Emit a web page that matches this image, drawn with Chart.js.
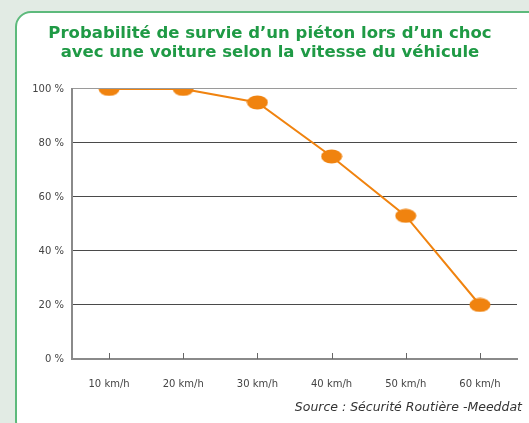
<!DOCTYPE html>
<html>
<head>
<meta charset="utf-8">
<script src="https://cdn.jsdelivr.net/npm/chart.js@4"></script>
<style>
    html, body { margin: 0; padding: 0; }
    body { width: 529px; height: 423px; background: #e2ebe4; position: relative; overflow: hidden; }
    #panel {
        position: absolute; left: 15px; top: 11px; right: -30px; bottom: -12px;
        background: #ffffff; border: 2px solid #5dba7c; border-radius: 16px 0 0 14px;
    }
    #wrap { position: absolute; left: 0; top: 0; width: 529px; height: 423px; }
</style>
</head>
<body>
<div id="panel"></div>
<div id="wrap"><canvas id="graphique"></canvas></div>
<script>
const vitesses = ['10 km/h', '20 km/h', '30 km/h', '40 km/h', '50 km/h', '60 km/h'];
const survie = [100, 100, 95, 75, 53, 20];
const graduations = [0, 20, 40, 60, 80, 100];

const orange = '#f0830f';

// point en forme d'ellipse comme sur l'image
function pointEllipse() {
    const c = document.createElement('canvas');
    c.width = 22;
    c.height = 15;
    const g = c.getContext('2d');
    g.fillStyle = orange;
    g.beginPath();
    g.ellipse(11, 7.5, 10.5, 7, 0, 0, Math.PI * 2);
    g.fill();
    return c;
}

// petites graduations vers le haut sur l'axe des x
const petitsTraits = {
    id: 'petitsTraits',
    beforeDatasetsDraw(chart) {
        const x = chart.scales.x;
        const ctx = chart.ctx;
        ctx.save();
        ctx.strokeStyle = '#666';
        ctx.lineWidth = 1;
        x.ticks.forEach(function (t, i) {
            const px = Math.round(x.getPixelForTick(i)) + 0.5;
            ctx.beginPath();
            ctx.moveTo(px, x.top - 6);
            ctx.lineTo(px, x.top);
            ctx.stroke();
        });
        ctx.restore();
    }
};

const ctx = document.getElementById('graphique').getContext('2d');
new Chart(ctx, {
    type: 'line',
    data: {
        labels: vitesses,
        datasets: [{
            label: 'Probabilité de survie',
            data: survie,
            borderColor: orange,
            borderWidth: 2,
            pointStyle: pointEllipse(),
            pointRadius: 10,
            tension: 0
        }]
    },
    options: {
        responsive: true,
        maintainAspectRatio: false,
        animation: false,
        layout: { padding: { left: 18, right: 7, top: 0, bottom: 8 } },
        plugins: {
            legend: { display: false },
            tooltip: { enabled: false },
            title: {
                display: true,
                text: ['Probabilité de survie d\u2019un piéton lors d\u2019un choc', 'avec une voiture selon la vitesse du véhicule'],
                color: '#1f9a45',
                font: { family: 'DejaVu Sans', size: 16.5, weight: 'bold', lineHeight: 1.15 },
                padding: { top: 24, bottom: 27 }
            },
            subtitle: {
                display: true,
                position: 'bottom',
                align: 'end',
                text: 'Source : Sécurité Routière -Meeddat',
                color: '#333',
                font: { family: 'DejaVu Sans', size: 12.5, style: 'italic', lineHeight: 1.2 },
                padding: { top: -9, bottom: 0 }
            }
        },
        scales: {
            x: {
                offset: true,
                border: { display: true, color: '#8a8a8a', width: 2 },
                grid: { display: false, drawTicks: false },
                ticks: {
                    color: '#444',
                    padding: 19,
                    font: { family: 'DejaVu Sans', size: 10 }
                }
            },
            y: {
                min: 0,
                max: 100,
                afterFit: function (scale) { scale.width = 54; },
                afterBuildTicks: function (scale) {
                    scale.ticks = graduations.map(v => ({ value: v }));
                },
                border: { display: true, color: '#8a8a8a', width: 2 },
                grid: {
                    drawTicks: false,
                    lineWidth: 1,
                    color: function (c) { return c.tick && c.tick.value === 100 ? '#9a9a9a' : '#4a4a4a'; }
                },
                ticks: {
                    color: '#444',
                    padding: 8,
                    font: { family: 'DejaVu Sans', size: 10 },
                    callback: function (v) { return v + ' %'; }
                }
            }
        }
    },
    plugins: [petitsTraits]
});
</script>
</body>
</html>
